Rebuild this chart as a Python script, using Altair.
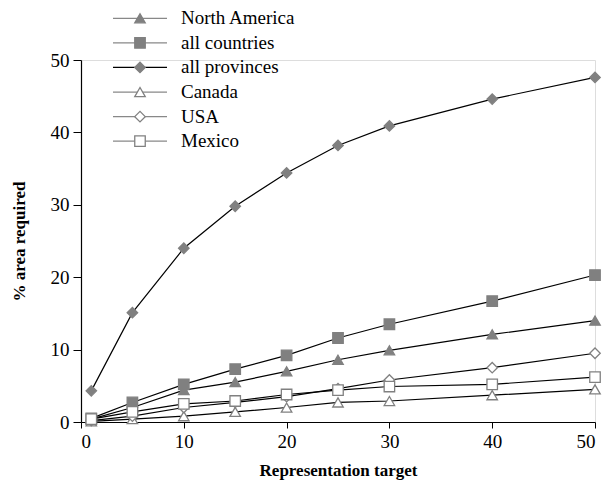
import altair as alt
import pandas as pd

targets = [1, 5, 10, 15, 20, 25, 30, 40, 50]
series_names = ["North America", "all countries", "all provinces", "Canada", "USA", "Mexico"]
north_america = [0.4, 2.0, 4.4, 5.5, 7.0, 8.6, 9.9, 12.1, 14.0]
all_countries = [0.5, 2.7, 5.2, 7.3, 9.2, 11.6, 13.5, 16.7, 20.3]
all_provinces = [4.3, 15.1, 24.0, 29.8, 34.4, 38.2, 40.9, 44.6, 47.6]
canada = [0.1, 0.4, 0.8, 1.4, 2.0, 2.7, 2.9, 3.7, 4.5]
usa = [0.2, 0.8, 2.0, 2.7, 3.5, 4.6, 5.8, 7.5, 9.5]
mexico = [0.4, 1.4, 2.5, 2.9, 3.8, 4.4, 4.9, 5.2, 6.2]

values = [north_america, all_countries, all_provinces, canada, usa, mexico]
shapes = ["triangle-up", "square", "diamond", "triangle-up", "diamond", "square"]
fills = ["#808080", "#808080", "#808080", "white", "white", "white"]
legend_line_colors = ["#888888", "#888888", "#000000", "#888888", "#888888", "#888888"]

rows = []
for name, vals in zip(series_names, values):
    for t, v in zip(targets, vals):
        rows.append({"series": name, "target": t, "value": v})
df = pd.DataFrame(rows)

FONT = "Liberation Serif"

x_enc = alt.X("target:Q", scale=alt.Scale(domain=[0, 50], nice=False),
              axis=alt.Axis(values=[0, 10, 20, 30, 40, 50], title="Representation target",
                            grid=False, labelFontSize=19, titleFontSize=17, labelFont=FONT,
                            titleFont=FONT, titleFontWeight="bold", labelColor="black",
                            titleColor="black", domainColor="black", tickColor="black",
                            tickSize=6, labelPadding=4, titlePadding=11, domainWidth=1.2))
y_enc = alt.Y("value:Q", scale=alt.Scale(domain=[0, 50], nice=False),
              axis=alt.Axis(values=[0, 10, 20, 30, 40, 50], title="% area required",
                            grid=False, labelFontSize=19, titleFontSize=17, labelFont=FONT,
                            titleFont=FONT, titleFontWeight="bold", labelColor="black",
                            titleColor="black", domainColor="black", tickColor="black",
                            tickSize=8, labelPadding=4, titlePadding=22, domainWidth=1.2))

shape_scale = alt.Scale(domain=series_names, range=shapes)
fill_scale = alt.Scale(domain=series_names, range=fills)

lines = alt.Chart(df).mark_line(color="black", strokeWidth=1.2).encode(
    x=x_enc, y=y_enc, detail="series:N")

points = alt.Chart(df).mark_point(filled=True, size=110, stroke="#808080", strokeWidth=1.3, opacity=1).encode(
    x=alt.X("target:Q"), y=alt.Y("value:Q"),
    shape=alt.Shape("series:N", scale=shape_scale, legend=None),
    fill=alt.Fill("series:N", scale=fill_scale, legend=None))

data_layer = alt.layer(lines, points)

leg_df = pd.DataFrame({"series": series_names, "lc": legend_line_colors})
leg_y = alt.Y("series:N", scale=alt.Scale(domain=series_names, range=[-54, 93.5]), axis=None)

leg_lines = alt.Chart(leg_df).mark_rule(strokeWidth=1.3).encode(
    y=leg_y, x=alt.value(32), x2=alt.value(86),
    color=alt.Color("lc:N", scale=None, legend=None))
leg_points = alt.Chart(leg_df).mark_point(filled=True, size=110, stroke="#808080", strokeWidth=1.3, opacity=1).encode(
    y=leg_y, x=alt.value(59),
    shape=alt.Shape("series:N", scale=shape_scale, legend=None),
    fill=alt.Fill("series:N", scale=fill_scale, legend=None))
leg_text = alt.Chart(leg_df).mark_text(align="left", baseline="middle", font=FONT, fontSize=19, color="black").encode(
    y=leg_y, x=alt.value(100), text="series:N")

legend_layer = alt.layer(leg_lines, leg_points, leg_text)

chart = alt.layer(data_layer, legend_layer).resolve_scale(
    y="independent").properties(
    width=514, height=362,
    autosize=alt.AutoSizeParams(type="none"),
    padding={"left": 73, "top": 52, "right": 10, "bottom": 59},
).configure_view(stroke=None).configure(background="white")

chart.save("out.html", embed_options={"renderer": "svg", "actions": False})
